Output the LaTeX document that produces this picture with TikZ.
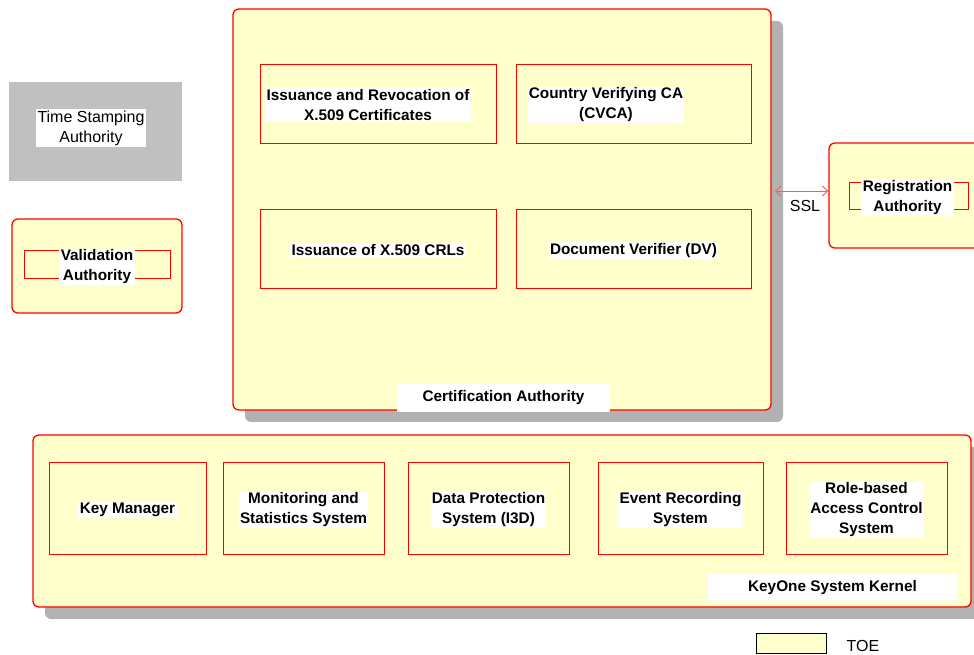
\documentclass[tikz,border=0pt]{standalone}
\usepackage{fontspec}
\setmainfont{Liberation Sans}
\usetikzlibrary{fit,shadows,arrows.meta}
\definecolor{toe}{RGB}{255,255,204}
\definecolor{shade}{RGB}{178,178,178}
\definecolor{tsagray}{RGB}{192,192,192}

\begin{document}
\begin{tikzpicture}[x=0.75pt,y=-0.75pt,
    frame/.style={draw=red,line width=1pt,fill=toe,rounded corners=4.5pt,inner sep=0pt},
    shadowed/.style={drop shadow={shadow xshift=9pt,shadow yshift=-9pt,fill=shade,opacity=1}},
    part/.style={draw=red,line width=0.6pt,fill=toe,inner sep=0pt},
    tag/.style={fill=white,align=center,inner sep=1pt,yshift=-1.5pt,font=\fontsize{11.5}{15}\selectfont\bfseries},
    plain/.style={align=center,inner sep=1pt,font=\fontsize{12}{15}\selectfont},
    ssl/.style={{Straight Barb[length=4pt,width=7.5pt]}-{Straight Barb[length=4pt,width=7.5pt]},draw={rgb,255:red,255;green,90;blue,90},line width=0.7pt}]
    \useasboundingbox(0,0)rectangle(974,655);

    % outside the TOE
    \node[fill=tsagray,inner sep=0pt,fit={(9,82)(182,181)}](tsa){};
    \node[plain,fill=white](tsatag)at(91,128){Time Stamping\\Authority};

    \node[frame,fit={(12,219)(182,313)}](va){};
    \node[part,fit={(24,250)(170,278)}](vabox){};
    \node[tag](vatag)at(97,265){Validation\\Authority};

    % certification authority
    \node[frame,shadowed,fit={(233,9)(771,410)}](ca){};
    \node[part,fit={(260,64)(496,143)}](irx){};
    \node[tag](irxtag)at(368,103){Issuance and Revocation of\\X.509 Certificates};
    \node[part,fit={(516,64)(751,143)}](cvca){};
    \node[tag](cvcatag)at(606,103){Country Verifying CA\\(CVCA)};
    \node[part,fit={(260,209)(496,288)}](crl){};
    \node[tag](crltag)at(crl.center){Issuance of X.509 CRLs};
    \node[part,fit={(516,209)(751,288)}](dv){};
    \node[tag](dvtag)at(dv.center){Document Verifier (DV)};
    \node[tag,minimum width=160pt,minimum height=21pt](catag)at(503.5,396){Certification Authority};

    % registration authority
    \node[frame,fit={(829,143)(987,248)}](ra){};
    \node[part,fit={(849,182)(968,209)}](rabox){};
    \node[tag](ratag)at(907.5,195.5){Registration\\Authority};
    \coordinate(sslend)at(775,191);
    \draw[ssl](sslend)--(sslend-|ra.west);
    \node[plain](ssltag)at(805,206){SSL};

    % system kernel
    \node[frame,shadowed,fit={(33,435)(971,607)}](kernel){};
    \node[part,fit={(49,462)(206,554)}](km){};
    \node[tag](kmtag)at(km.center){Key Manager};
    \node[part,fit={(223,462)(384,554)}](mss){};
    \node[tag](msstag)at(mss.center){Monitoring and\\Statistics System};
    \node[part,fit={(408,462)(569,554)}](dps){};
    \node[tag](dpstag)at(dps.center){Data Protection\\System (I3D)};
    \node[part,fit={(598,462)(763,554)}](ers){};
    \node[tag](erstag)at(ers.center){Event Recording\\System};
    \node[part,fit={(786,462)(947,554)}](rbac){};
    \node[tag](rbactag)at(rbac.center){Role-based\\Access Control\\System};
    \node[tag,minimum width=187pt,minimum height=20pt](kerneltag)at(832.5,585.5){KeyOne System Kernel};

    % legend
    \node[draw=black,line width=0.6pt,fill=toe,inner sep=0pt,fit={(756,633)(826,653)}](legend){};
    \node[plain,anchor=west](legendtag)at(845,646){TOE};
\end{tikzpicture}
\end{document}
